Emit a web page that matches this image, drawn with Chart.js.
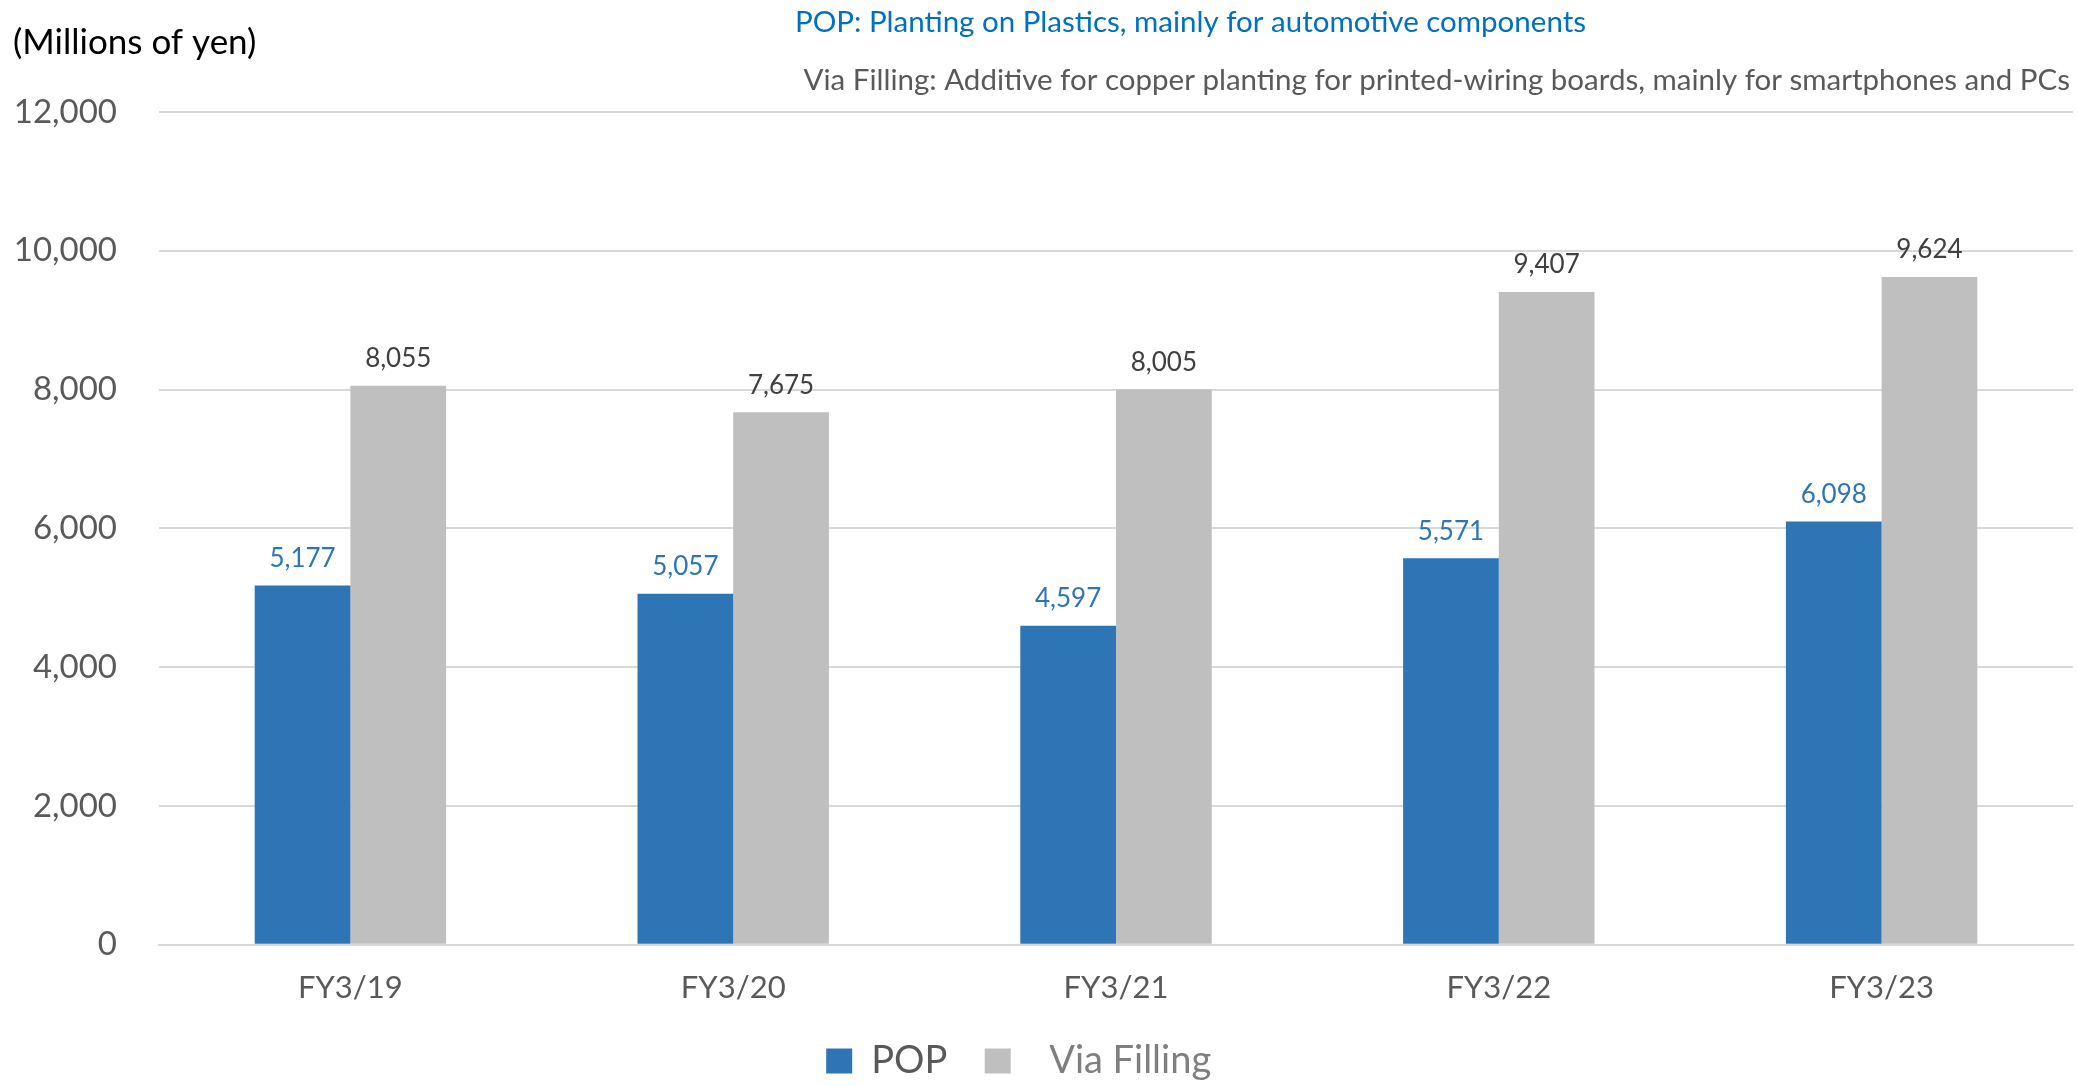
<!DOCTYPE html>
<html>
<head>
<meta charset="utf-8">
<script src="https://cdn.jsdelivr.net/npm/chart.js@4"></script>
<style>
   html, body { margin: 0; padding: 0; background: #fff; }
   #wrap { width: 2077px; height: 1086px; position: relative; }
</style>
</head>
<body>
<div id="wrap"><canvas id="salesChart"></canvas></div>
<script>
// chart data
const categories = ["FY3/19", "FY3/20", "FY3/21", "FY3/22", "FY3/23"];
const popValues = [5177, 5057, 4597, 5571, 6098];
const viaValues = [8055, 7675, 8005, 9407, 9624];
const yTicks = [0, 2000, 4000, 6000, 8000, 10000, 12000];

const FONT = "Lato, 'Open Sans', sans-serif";
const BLUE = "#2E75B6";
const GRAY = "#BFBFBF";

function fmt(v) {
   return v.toLocaleString("en-US");
}

// notes at the top + value labels over the bars
const textPlugin = {
   id: "textPlugin",
   afterDatasetsDraw(chart) {
      const ctx = chart.ctx;
      ctx.save();
      ctx.textBaseline = "middle";

      ctx.font = "35px " + FONT;
      ctx.fillStyle = "#000000";
      ctx.textAlign = "left";
      ctx.fillText("(Millions of yen)", 13, 43);

      ctx.font = "29.5px " + FONT;
      ctx.fillStyle = "#0070C0";
      ctx.fillText("POP: Planting on Plastics, mainly for automotive components", 795, 22);

      ctx.fillStyle = "#595959";
      ctx.textAlign = "right";
      ctx.fillText("Via Filling: Additive for copper planting for printed-wiring boards, mainly for smartphones and PCs", 2070, 80);

      // value labels
      ctx.font = "26px " + FONT;
      ctx.textAlign = "center";
      ctx.textBaseline = "bottom";
      chart.data.datasets.forEach((ds, i) => {
         const meta = chart.getDatasetMeta(i);
         ctx.fillStyle = i === 0 ? BLUE : "#404040";
         meta.data.forEach((bar, j) => {
            ctx.fillText(fmt(ds.data[j]), bar.x, bar.y - 14);
         });
      });
      ctx.restore();
   }
};

const chart = new Chart(document.getElementById("salesChart"), {
   type: "bar",
   data: {
      labels: categories,
      datasets: [
         {
            label: "POP",
            data: popValues,
            backgroundColor: BLUE,
            categoryPercentage: 0.5,
            barPercentage: 1.0,
         },
         {
            label: "Via Filling",
            data: viaValues,
            backgroundColor: GRAY,
            categoryPercentage: 0.5,
            barPercentage: 1.0,
         },
      ],
   },
   options: {
      responsive: true,
      maintainAspectRatio: false,
      animation: false,
      layout: {
         padding: { top: 112, left: 13, right: 4, bottom: -4 },
      },
      scales: {
         x: {
            grid: { display: false },
            border: { display: true, color: "#D9D9D9", width: 2 },
            ticks: {
               color: "#595959",
               font: { family: FONT, size: 31 },
               padding: 17,
            },
         },
         y: {
            min: 0,
            max: 12000,
            afterBuildTicks: (axis) => {
               axis.ticks = yTicks.map((v) => ({ value: v }));
            },
            afterFit: (axis) => {
               axis.width = 146;
            },
            border: { display: false },
            grid: { color: "#D9D9D9", lineWidth: 2, drawTicks: false },
            ticks: {
               color: "#595959",
               font: { family: FONT, size: 33 },
               padding: 42,
               callback: (v) => fmt(v),
            },
         },
      },
      plugins: {
         legend: {
            display: true,
            position: "bottom",
            labels: {
               boxWidth: 26,
               boxHeight: 25,
               padding: 18,
               font: { family: FONT, size: 38 },
               // spaces keep the gaps of the original legend
               generateLabels: (c) => {
                  return c.data.datasets.map((ds, i) => ({
                     text: i === 0 ? ds.label + "  " : "  " + ds.label + "     ",
                     fillStyle: ds.backgroundColor,
                     strokeStyle: ds.backgroundColor,
                     lineWidth: 0,
                     fontColor: i === 0 ? "#595959" : "#7F7F7F",
                     datasetIndex: i,
                  }));
               },
            },
         },
         title: { display: false },
         tooltip: { enabled: false },
      },
   },
   plugins: [textPlugin],
});
</script>
</body>
</html>
